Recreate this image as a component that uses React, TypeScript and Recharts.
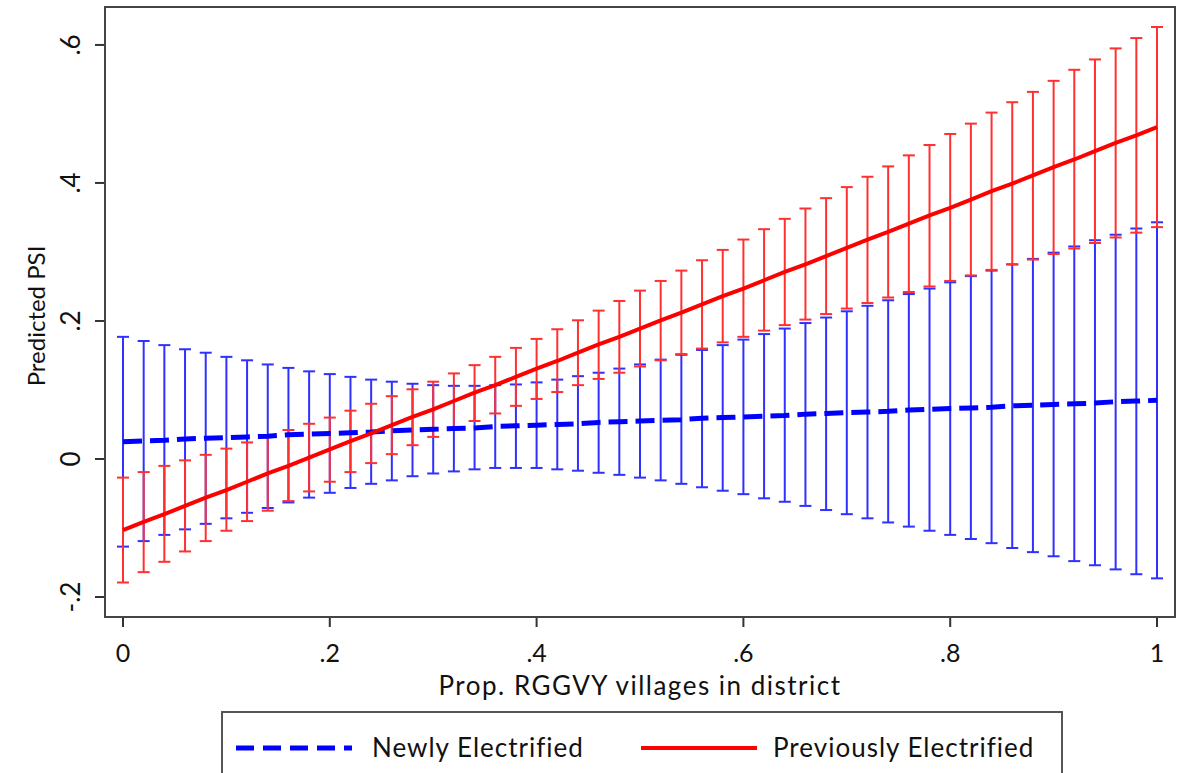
import React from 'react';
import { ComposedChart, Line, XAxis, YAxis, ErrorBar, Label } from 'recharts';

// x grid: share of RGGVY villages in district
const xVals = [
  0, 0.02, 0.04, 0.06, 0.08, 0.1, 0.12, 0.14, 0.16, 0.18, 0.2, 0.22, 0.24, 0.26, 0.28, 0.3, 0.32,
  0.34, 0.36, 0.38, 0.4, 0.42, 0.44, 0.46, 0.48, 0.5, 0.52, 0.54, 0.56, 0.58, 0.6, 0.62, 0.64, 0.66,
  0.68, 0.7, 0.72, 0.74, 0.76, 0.78, 0.8, 0.82, 0.84, 0.86, 0.88, 0.9, 0.92, 0.94, 0.96, 0.98, 1,
];

// Newly Electrified: prediction and CI bounds
const newMean = [
  0.025, 0.026, 0.027, 0.029, 0.03, 0.031, 0.032, 0.033, 0.035, 0.036, 0.037, 0.038, 0.039, 0.041,
  0.042, 0.043, 0.044, 0.045, 0.047, 0.048, 0.049, 0.05, 0.051, 0.053, 0.054, 0.055, 0.056, 0.057,
  0.059, 0.06, 0.061, 0.062, 0.063, 0.065, 0.066, 0.067, 0.068, 0.069, 0.071, 0.072, 0.073, 0.074,
  0.075, 0.077, 0.078, 0.079, 0.08, 0.081, 0.083, 0.084, 0.085,
];
const newHi = [
  0.177, 0.171, 0.165, 0.159, 0.154, 0.148, 0.143, 0.137, 0.132, 0.127, 0.123, 0.119, 0.115, 0.112,
  0.109, 0.107, 0.106, 0.106, 0.107, 0.108, 0.111, 0.115, 0.12, 0.125, 0.131, 0.137, 0.144, 0.151,
  0.158, 0.165, 0.173, 0.181, 0.189, 0.197, 0.205, 0.214, 0.222, 0.23, 0.239, 0.247, 0.256, 0.265,
  0.273, 0.282, 0.29, 0.299, 0.308, 0.317, 0.325, 0.334, 0.343,
];
const newLo = [
  -0.127, -0.119, -0.11, -0.102, -0.094, -0.086, -0.078, -0.071, -0.063, -0.056, -0.049, -0.042,
  -0.036, -0.031, -0.025, -0.021, -0.018, -0.015, -0.013, -0.013, -0.013, -0.015, -0.017, -0.02,
  -0.023, -0.027, -0.031, -0.036, -0.041, -0.046, -0.051, -0.057, -0.062, -0.068, -0.074, -0.08,
  -0.086, -0.092, -0.098, -0.104, -0.11, -0.116, -0.122, -0.129, -0.135, -0.141, -0.148, -0.154,
  -0.16, -0.167, -0.173,
];

// Previously Electrified: prediction and CI bounds
const prevMean = [
  -0.103, -0.091, -0.08, -0.068, -0.056, -0.045, -0.033, -0.021, -0.01, 0.002, 0.014, 0.026, 0.037,
  0.049, 0.061, 0.072, 0.084, 0.096, 0.107, 0.119, 0.131, 0.142, 0.154, 0.166, 0.177, 0.189, 0.201,
  0.212, 0.224, 0.236, 0.247, 0.259, 0.271, 0.282, 0.294, 0.306, 0.318, 0.329, 0.341, 0.353, 0.364,
  0.376, 0.388, 0.399, 0.411, 0.423, 0.434, 0.446, 0.458, 0.469, 0.481,
];
const prevHi = [
  -0.027, -0.019, -0.01, -0.002, 0.006, 0.015, 0.024, 0.033, 0.042, 0.051, 0.06, 0.07, 0.08, 0.091,
  0.101, 0.112, 0.124, 0.136, 0.148, 0.161, 0.174, 0.188, 0.201, 0.215, 0.229, 0.244, 0.258, 0.273,
  0.288, 0.303, 0.318, 0.333, 0.348, 0.363, 0.378, 0.394, 0.409, 0.424, 0.44, 0.455, 0.471, 0.486,
  0.502, 0.517, 0.532, 0.548, 0.564, 0.579, 0.595, 0.61, 0.626,
];
const prevLo = [
  -0.179, -0.164, -0.149, -0.134, -0.119, -0.104, -0.09, -0.075, -0.061, -0.047, -0.033, -0.019,
  -0.006, 0.007, 0.02, 0.032, 0.044, 0.055, 0.066, 0.077, 0.087, 0.097, 0.107, 0.116, 0.125, 0.134,
  0.143, 0.152, 0.16, 0.169, 0.177, 0.186, 0.194, 0.202, 0.21, 0.218, 0.226, 0.234, 0.242, 0.25,
  0.258, 0.266, 0.274, 0.282, 0.289, 0.297, 0.305, 0.313, 0.321, 0.328, 0.336,
];

const xTicks = [0, 0.2, 0.4, 0.6, 0.8, 1];
const yTicks = [-0.2, 0, 0.2, 0.4, 0.6];
const seriesNames = ['Newly Electrified', 'Previously Electrified'];
const xTitle = 'Prop. RGGVY villages in district';
const yTitle = 'Predicted PSI';

const BLUE = '#0000ff';
const RED = '#ff0000';
const FONT = 'Lato, "Open Sans", sans-serif';

const rows = xVals.map((x, i) => ({
  x,
  newMean: newMean[i],
  newErr: [newMean[i] - newLo[i], newHi[i] - newMean[i]],
  prevMean: prevMean[i],
  prevErr: [prevMean[i] - prevLo[i], prevHi[i] - prevMean[i]],
}));

// stata style: .2, -.2, 0, 1
const fmt = (v: number) => {
  if (v === 0) return '0';
  if (v === 1) return '1';
  const s = String(Math.abs(v)).replace(/^0/, '');
  return v < 0 ? '-' + s : s;
};

const XTick = (props: any) => {
  const { x, payload } = props;
  return (
    <text x={x} y={652} textAnchor='middle' dominantBaseline='central' fontSize={25} fill='#111' fontFamily={FONT}>
      {fmt(payload.value)}
    </text>
  );
};

const YTick = (props: any) => {
  const { y, payload } = props;
  return (
    <text
      x={70}
      y={y}
      transform={`rotate(-90 70 ${y})`}
      textAnchor='middle'
      dominantBaseline='central'
      fontSize={26}
      fill='#111'
      fontFamily={FONT}
    >
      {fmt(payload.value)}
    </text>
  );
};

const App = () => {
  return (
    <div style={{ position: 'absolute', left: 0, top: 0, width: 1189, height: 773, overflow: 'hidden', background: '#fff' }}>
      <ComposedChart width={1189} height={773} data={rows} margin={{ top: 7, right: 14, bottom: 71, left: 0 }}>
        <XAxis
          dataKey='x'
          type='number'
          domain={[-0.0174, 1.0174]}
          ticks={xTicks}
          height={85}
          axisLine={false}
          tickSize={10}
          tickLine={{ stroke: '#333', strokeWidth: 2 }}
          tick={<XTick />}
          allowDataOverflow
        >
          <Label
            value={xTitle}
            position='insideBottom'
            offset={7}
            style={{ fontSize: 26, letterSpacing: 1.5, fill: '#111', fontFamily: FONT }}
          />
        </XAxis>
        <YAxis
          type='number'
          domain={[-0.229, 0.655]}
          ticks={yTicks}
          width={105}
          axisLine={false}
          tickSize={10}
          tickLine={{ stroke: '#333', strokeWidth: 2 }}
          tick={<YTick />}
          allowDataOverflow
        >
          <Label
            content={() => (
              <text
                x={35}
                y={316}
                transform='rotate(-90 35 316)'
                textAnchor='middle'
                dominantBaseline='central'
                fontSize={24}
                fill='#111'
                fontFamily={FONT}
              >
                {yTitle}
              </text>
            )}
          />
        </YAxis>
        {/* confidence intervals first, prediction lines on top */}
        <Line dataKey='newMean' stroke='none' dot={false} activeDot={false} legendType='none' isAnimationActive={false}>
          <ErrorBar dataKey='newErr' direction='y' width={6} stroke='#3030ff' strokeWidth={2} />
        </Line>
        <Line dataKey='prevMean' stroke='none' dot={false} activeDot={false} legendType='none' isAnimationActive={false}>
          <ErrorBar dataKey='prevErr' direction='y' width={6} stroke='#ff3030' strokeWidth={2} />
        </Line>
        <Line
          dataKey='newMean'
          name={seriesNames[0]}
          stroke={BLUE}
          strokeWidth={5}
          strokeDasharray='19 8'
          dot={false}
          activeDot={false}
          isAnimationActive={false}
        />
        <Line
          dataKey='prevMean'
          name={seriesNames[1]}
          stroke={RED}
          strokeWidth={4}
          dot={false}
          activeDot={false}
          isAnimationActive={false}
        />
      </ComposedChart>
      {/* plot frame */}
      <div
        style={{
          position: 'absolute',
          left: 104,
          top: 6,
          width: 1068,
          height: 608,
          border: '2px solid #444',
          pointerEvents: 'none',
        }}
      />
      {/* legend box */}
      <div
        style={{
          position: 'absolute',
          left: 221,
          top: 711,
          width: 838,
          height: 90,
          border: '2px solid #555',
          fontFamily: FONT,
          fontSize: 26,
          letterSpacing: 1,
          color: '#111',
        }}
      >
        <svg width={120} height={10} style={{ position: 'absolute', left: 13, top: 30 }}>
          <line x1={0} y1={5} x2={116} y2={5} stroke={BLUE} strokeWidth={5} strokeDasharray='18 9' />
        </svg>
        <span style={{ position: 'absolute', left: 149, top: 18, whiteSpace: 'nowrap' }}>{seriesNames[0]}</span>
        <svg width={120} height={10} style={{ position: 'absolute', left: 418, top: 30 }}>
          <line x1={0} y1={5} x2={116} y2={5} stroke={RED} strokeWidth={4} />
        </svg>
        <span style={{ position: 'absolute', left: 550, top: 18, whiteSpace: 'nowrap' }}>{seriesNames[1]}</span>
      </div>
    </div>
  );
};

export default App;
